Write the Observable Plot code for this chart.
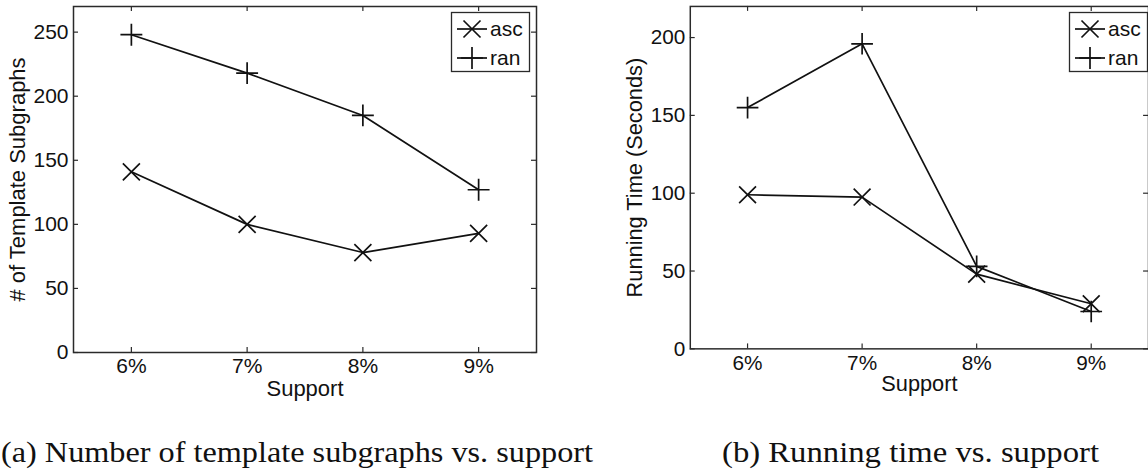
<!DOCTYPE html>
<html>
<head>
<meta charset="utf-8">
<script src="https://cdn.jsdelivr.net/npm/d3@7"></script>
<script src="https://cdn.jsdelivr.net/npm/@observablehq/plot@0.6"></script>
<style>
  html, body { margin: 0; padding: 0; background: #fff; overflow: hidden; }
  #wrap { position: relative; width: 1148px; height: 476px; overflow: hidden; background: #fff; }
  #wrap > .panel { position: absolute; top: 0; }
  #overlay { position: absolute; left: 0; top: 0; }
</style>
</head>
<body>
<div id="wrap">
  <div class="panel" id="left" style="left:0px"></div>
  <div class="panel" id="right" style="left:574px"></div>
  <svg id="overlay" width="1148" height="476"></svg>
</div>
<script>
// ---- data ----
const supports = [6, 7, 8, 9];
const supportLabels = ["6%", "7%", "8%", "9%"];
const seriesNames = ["asc", "ran"];
const templAsc = [141, 100, 78, 93];
const templRan = [248, 218, 185, 127];
const timeAsc = [99, 97.5, 48, 29];
const timeRan = [155, 196, 53, 24];
const templTicks = [0, 50, 100, 150, 200, 250];
const timeTicks = [0, 50, 100, 150, 200];
const captions = ["(a) Number of template subgraphs vs. support", "(b) Running time vs. support"];
const xLabel = "Support";
const yLabels = ["# of Template Subgraphs", "Running Time (Seconds)"];

const INK = "#111";
const FRAME = "#2a2a2a";
const R_TIMES = 7.8, R_PLUS = 7.1, LW = 1.7;

function chart({asc, ran, yTicks, yMax, yLabel, width, ml, mr}) {
  const H = 400, mt = 6, mb = 48;
  const fh = H - mt - mb, fw = width - ml - mr;
  const ascData = supports.map((s, i) => ({x: s, y: asc[i]}));
  const ranData = supports.map((s, i) => ({x: s, y: ran[i]}));
  return Plot.plot({
    width, height: H,
    marginLeft: ml, marginRight: mr, marginTop: mt, marginBottom: mb,
    style: {fontFamily: "'Liberation Sans', Arial, sans-serif", fontSize: "21px", color: INK, background: "transparent", overflow: "visible"},
    x: {domain: [5.5, 9.5]},
    y: {domain: [0, yMax]},
    marks: [
      Plot.axisX(supports, {tickSize: 0, tickPadding: 6, fontSize: 21, label: null,
        tickFormat: d => supportLabels[supports.indexOf(d)]}),
      Plot.axisY(yTicks, {tickSize: 0, tickPadding: 5, fontSize: 21, label: null}),
      Plot.tickX(supports, {x: d => d, insetTop: fh - 5, stroke: FRAME, strokeWidth: 1.2}),
      Plot.tickX(supports, {x: d => d, insetBottom: fh - 5, stroke: FRAME, strokeWidth: 1.2}),
      Plot.tickY(yTicks, {y: d => d, insetRight: fw - 5, stroke: FRAME, strokeWidth: 1.2}),
      Plot.tickY(yTicks, {y: d => d, insetLeft: fw - 5, stroke: FRAME, strokeWidth: 1.2}),
      Plot.frame({stroke: FRAME, strokeWidth: 1.5}),
      Plot.line(ascData, {x: "x", y: "y", stroke: INK, strokeWidth: LW}),
      Plot.line(ranData, {x: "x", y: "y", stroke: INK, strokeWidth: LW}),
      Plot.dot(ascData, {x: "x", y: "y", symbol: "times", r: R_TIMES, stroke: INK, strokeWidth: LW}),
      Plot.dot(ranData, {x: "x", y: "y", symbol: "plus", r: R_PLUS, stroke: INK, strokeWidth: LW}),
      Plot.text([yLabel], {text: d => d, frameAnchor: "left", textAnchor: "middle", lineAnchor: "middle",
        rotate: -90, dx: -56, fontSize: 22, fill: INK}),
      Plot.text([xLabel], {text: d => d, frameAnchor: "bottom", textAnchor: "middle", lineAnchor: "middle",
        dy: 36, fontSize: 22, fill: INK})
    ]
  });
}

document.getElementById("left").appendChild(chart({
  asc: templAsc, ran: templRan, yTicks: templTicks, yMax: 270, yLabel: yLabels[0],
  width: 560, ml: 73, mr: 24
}));
document.getElementById("right").appendChild(chart({
  asc: timeAsc, ran: timeRan, yTicks: timeTicks, yMax: 220, yLabel: yLabels[1],
  width: 580, ml: 117, mr: 0
}));

// ---- legends and captions ----
const svg = d3.select("#overlay");
const symbols = [d3.symbolTimes, d3.symbolPlus];
const radii = [R_TIMES, R_PLUS];
function legend(x0, y0) {
  const g = svg.append("g").attr("transform", `translate(${x0},${y0})`);
  g.append("rect").attr("x", 0.5).attr("y", 0.5).attr("width", 78).attr("height", 59)
    .attr("fill", "#fff").attr("stroke", FRAME).attr("stroke-width", 1.3);
  seriesNames.forEach((name, i) => {
    const cy = 17 + i * 29;
    g.append("line").attr("x1", 6).attr("x2", 36).attr("y1", cy).attr("y2", cy)
      .attr("stroke", INK).attr("stroke-width", LW);
    g.append("path").attr("transform", `translate(21,${cy})`)
      .attr("d", d3.symbol(symbols[i], Math.PI * radii[i] * radii[i])())
      .attr("fill", "none").attr("stroke", INK).attr("stroke-width", LW);
    g.append("text").attr("x", 39).attr("y", cy).attr("dy", "0.35em")
      .attr("font-family", "'Liberation Sans', Arial, sans-serif").attr("font-size", 21)
      .attr("fill", INK).text(name);
  });
}
legend(451, 12);
legend(1069, 12);

const capX = [1, 722], capW = [592, 377];
captions.forEach((c, i) => {
  svg.append("text").attr("x", capX[i]).attr("y", 462)
    .attr("font-family", "'Liberation Serif', 'Times New Roman', serif").attr("font-size", 30)
    .attr("fill", INK).attr("textLength", capW[i]).attr("lengthAdjust", "spacingAndGlyphs").text(c);
});
</script>
</body>
</html>
